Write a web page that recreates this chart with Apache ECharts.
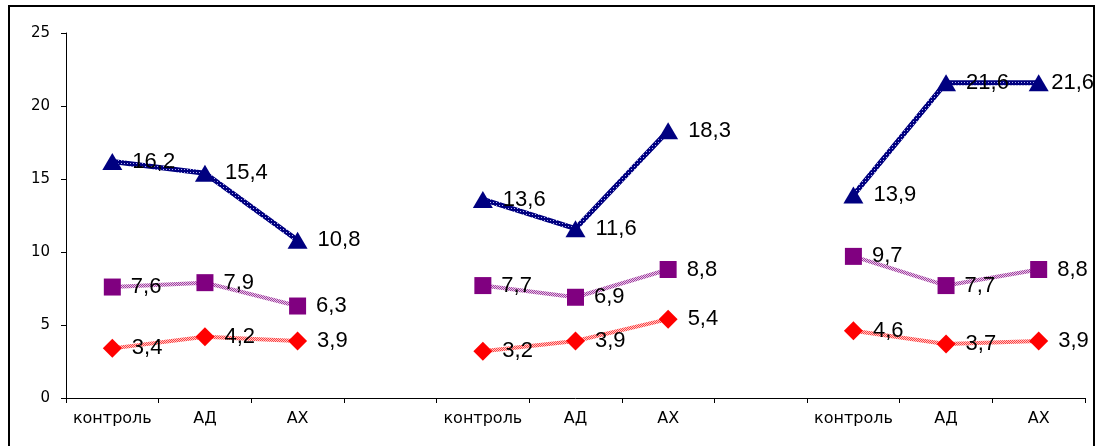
<!DOCTYPE html>
<html>
<head>
<meta charset="utf-8">
<script src="https://cdn.jsdelivr.net/npm/echarts@6/dist/echarts.min.js"></script>
<style>
  html, body { margin: 0; padding: 0; background: #fff; }
  #chart { width: 1098px; height: 446px; }
</style>
</head>
<body>
<div id="chart"></div>
<script>
// Three groups of measurements, separated by an empty slot on the category axis
const categories = ['контроль', 'АД', 'АХ', '', 'контроль', 'АД', 'АХ', '', 'контроль', 'АД', 'АХ'];
const triangleValues = [16.2, 15.4, 10.8, null, 13.6, 11.6, 18.3, null, 13.9, 21.6, 21.6];
const squareValues   = [7.6, 7.9, 6.3, null, 7.7, 6.9, 8.8, null, 9.7, 7.7, 8.8];
const diamondValues  = [3.4, 4.2, 3.9, null, 3.2, 3.9, 5.4, null, 4.6, 3.7, 3.9];
const yTicks = [0, 5, 10, 15, 20, 25];

// Small tiled canvas used as a textured stroke for the lines
function makePattern(base, light, cells) {
  const c = document.createElement('canvas');
  c.width = cells[0].length;
  c.height = cells.length;
  const ctx = c.getContext('2d');
  for (let y = 0; y < cells.length; y++) {
    for (let x = 0; x < cells[y].length; x++) {
      ctx.fillStyle = cells[y][x] ? light : base;
      ctx.fillRect(x, y, 1, 1);
    }
  }
  return { image: c, repeat: 'repeat' };
}

const navyPattern = makePattern('#000080', '#b0b0f0', [[0, 0, 0], [0, 1, 0], [0, 0, 0]]);
const purplePattern = makePattern('#a040a0', '#e8c8e8', [[0, 1], [1, 0]]);
const redPattern = makePattern('#ff4040', '#ffc8c8', [[0, 1], [1, 0]]);

const axisFont = 'DejaVu Sans';
const valueFont = 'Liberation Sans';
const frameRight = 1094;

function commaLabel(p) {
  return p.value == null ? '' : String(p.value).replace('.', ',');
}

function lineSeries(name, values, symbol, size, color, pattern, width) {
  return {
    name: name,
    type: 'line',
    data: values,
    connectNulls: false,
    symbol: symbol,
    symbolSize: size,
    showAllSymbol: true,
    itemStyle: { color: color, opacity: 1 },
    lineStyle: { color: pattern, width: width },
    emphasis: { disabled: true },
    label: {
      show: true,
      position: 'right',
      distance: 10,
      color: '#000',
      fontFamily: valueFont,
      fontSize: 22,
      formatter: commaLabel
    },
    // keep value labels inside the outer frame
    labelLayout: function (p) {
      const r = p.labelRect;
      const over = r.x + r.width - frameRight;
      return over > 0 ? { dx: -over } : {};
    },
    z: 3
  };
}

const chart = echarts.init(document.getElementById('chart'), null, { renderer: 'canvas' });

chart.setOption({
  animation: false,
  backgroundColor: '#ffffff',
  grid: { left: 66, right: 13, top: 33, bottom: 48, containLabel: false },
  graphic: [{
    type: 'rect',
    shape: { x: 9, y: 6, width: 1085, height: 446 },
    style: { fill: 'none', stroke: '#000', lineWidth: 2 },
    silent: true,
    z: 0
  }],
  xAxis: {
    type: 'category',
    data: categories,
    boundaryGap: true,
    axisLine: { show: true, lineStyle: { color: '#000', width: 1 } },
    axisTick: { show: true, interval: 0, length: 5, lineStyle: { color: '#000' } },
    axisLabel: {
      interval: 0,
      margin: 13,
      color: '#000',
      fontFamily: axisFont,
      fontSize: 16
    },
    splitLine: { show: false }
  },
  yAxis: {
    type: 'value',
    min: yTicks[0],
    max: yTicks[yTicks.length - 1],
    interval: 5,
    axisLine: { show: true, lineStyle: { color: '#000', width: 1 } },
    axisTick: { show: true, length: 5, lineStyle: { color: '#000' } },
    axisLabel: {
      margin: 16,
      color: '#000',
      fontFamily: axisFont,
      fontSize: 15
    },
    splitLine: { show: false }
  },
  series: [
    lineSeries('triangle', triangleValues, 'triangle', [20, 17], '#000080', navyPattern, 5),
    lineSeries('square', squareValues, 'rect', [17, 17], '#800080', purplePattern, 4),
    lineSeries('diamond', diamondValues, 'diamond', [19, 19], '#ff0000', redPattern, 4)
  ]
});
</script>
</body>
</html>
